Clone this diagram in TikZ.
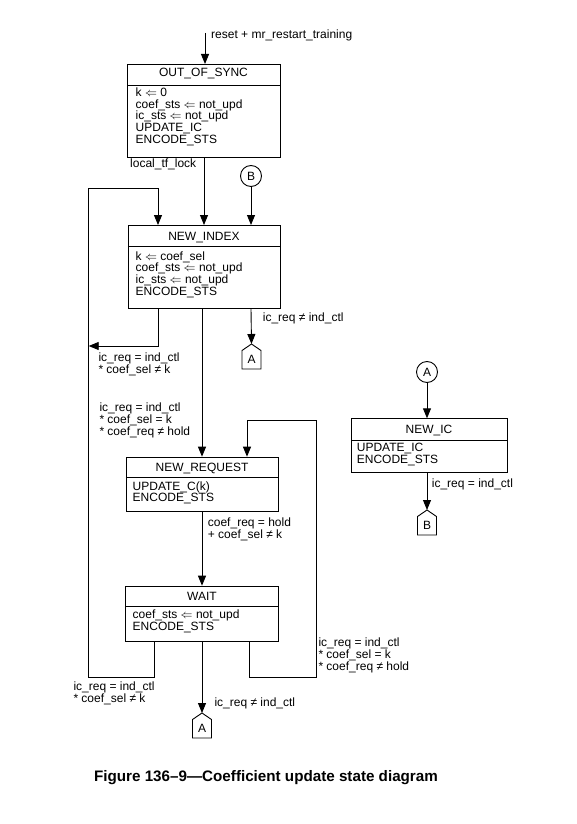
\documentclass[tikz,border=0pt]{standalone}
\usepackage{fontspec}
\setmainfont{Liberation Sans}
\usetikzlibrary{arrows.meta,calc}
\newcommand\offpg[4]{%
  \coordinate (#1top) at (#2,#3);
  \draw[lw] (#1top) -- ++(9.5,6.5) -- ++(0,18.5) -- ++(-19,0) -- ++(0,-18.5) -- cycle;
  \node[anchor=base,inner sep=0pt,font=\fontsize{12}{11.7}\selectfont] (#1) at (#2,#3+19.5) {#4};
}
\begin{document}
\begin{tikzpicture}[x=1pt,y=-1pt,
  lw/.style={line width=0.9pt},
  arr/.style={lw,-{Triangle[length=10pt,width=8pt]}},
  sbox/.style={draw,lw,inner sep=0pt,anchor=north west},
  ttl/.style={anchor=base,inner sep=0pt,font=\fontsize{12}{11.7}\selectfont},
  txt/.style={anchor=base west,align=left,inner sep=0pt,font=\fontsize{12}{11.7}\selectfont},
  conn/.style={draw,lw,circle,minimum size=21pt,inner sep=0pt,font=\fontsize{12}{11.7}\selectfont}]
\useasboundingbox[fill=white] (0,0) rectangle (577,824);

% column coordinates
\coordinate (c204) at (204,0);
\coordinate (c202) at (202,0);
\coordinate (c159) at (158.5,0);
\coordinate (c158) at (158,0);
\coordinate (c251) at (251,0);
\coordinate (c154) at (154.5,0);
\coordinate (c249) at (249,0);
\coordinate (c247) at (247,0);
\coordinate (c427) at (427,0);

% (multi-line text nodes are placed by the baseline of their last line)

% OUT_OF_SYNC
\node[sbox,minimum width=153pt,minimum height=93pt] (oos) at (127,64) {};
\node[ttl] (oosT) at (203.5,77) {OUT\_OF\_SYNC};
\draw[lw] (oos.west |- 0,85) -- (oos.east |- 0,85);
\node[txt] (oosB) at (135.5,143.3) {k $\Leftarrow$ 0\\coef\_sts $\Leftarrow$ not\_upd\\ic\_sts $\Leftarrow$ not\_upd\\UPDATE\_IC\\ENCODE\_STS};

% NEW_INDEX
\node[sbox,minimum width=152.5pt,minimum height=83pt] (ni) at (127.8,225) {};
\node[ttl] (niT) at (204,240) {NEW\_INDEX};
\draw[lw] (ni.west |- 0,246.7) -- (ni.east |- 0,246.7);
\node[txt] (niB) at (135.5,295.1) {k $\Leftarrow$ coef\_sel\\coef\_sts $\Leftarrow$ not\_upd\\ic\_sts $\Leftarrow$ not\_upd\\ENCODE\_STS};

% NEW_REQUEST
\node[sbox,minimum width=152.5pt,minimum height=54.5pt] (nr) at (125.8,456.7) {};
\node[ttl] (nrT) at (202,471) {NEW\_REQUEST};
\draw[lw] (nr.west |- 0,477.7) -- (nr.east |- 0,477.7);
\node[txt] (nrB) at (132.5,501.7) {UPDATE\_C(k)\\ENCODE\_STS};

% WAIT
\node[sbox,minimum width=153pt,minimum height=55pt] (wt) at (125.3,585.7) {};
\node[ttl] (wtT) at (202,600) {WAIT};
\draw[lw] (wt.west |- 0,606) -- (wt.east |- 0,606);
\node[txt] (wtB) at (132.5,630) {coef\_sts $\Leftarrow$ not\_upd\\ENCODE\_STS};

% NEW_IC
\node[sbox,minimum width=156.3pt,minimum height=54pt] (nic) at (351,418.3) {};
\node[ttl] (nicT) at (429,433.3) {NEW\_IC};
\draw[lw] (nic.west |- 0,440) -- (nic.east |- 0,440);
\node[txt] (nicB) at (356.7,463.4) {UPDATE\_IC\\ENCODE\_STS};

% connectors (circles)
\node[conn] (Bc) at (251,176) {B};
\node[conn] (Ac) at (427,372) {A};

% off-page connectors
\offpg{A1}{251.5}{344}{A}
\offpg{A2}{202}{713}{A}
\offpg{B2}{427}{510}{B}

% entry
\coordinate (start) at (205,33);
\draw[arr] (start) -- (start |- oos.north);
\node[txt] (lreset) at (211,38.3) {reset + mr\_restart\_training};

% OUT_OF_SYNC -> NEW_INDEX
\draw[arr] (c204 |- oos.south) -- (c204 |- ni.north);
\node[txt] (llock) at (130,167.5) {local\_tf\_lock};

% B -> NEW_INDEX
\draw[arr] (Bc.south) -- (Bc |- ni.north);

% loop from WAIT to NEW_INDEX (left)
\coordinate (L1) at (88.7,677);
\coordinate (L2) at (88.7,188);
\coordinate (L3) at (158,188);
\draw[arr] (c154 |- wt.south) |- (L1) -- (L2) -- (L3) -- (L3 |- ni.north);
\node[txt] (lwl) at (73.3,702.4) {ic\_req = ind\_ctl\\* coef\_sel ≠ k};

% NEW_INDEX -> left loop
\coordinate (L4) at (88.7,346);
\draw[arr] (c159 |- ni.south) |- (L4);
\node[txt] (lnil) at (98.3,373) {ic\_req = ind\_ctl\\* coef\_sel ≠ k};

% NEW_INDEX -> A
\draw[arr] (c251 |- ni.south) -- (A1top);
\node[txt] (lnia) at (262.7,321) {ic\_req ≠ ind\_ctl};

% NEW_INDEX -> NEW_REQUEST
\draw[arr] (c202 |- ni.south) -- (c202 |- nr.north);
\node[txt] (lninr) at (99.3,435.1) {ic\_req = ind\_ctl\\* coef\_sel = k\\* coef\_req ≠ hold};

% NEW_REQUEST -> WAIT
\draw[arr] (c202 |- nr.south) -- (c202 |- wt.north);
\node[txt] (lnrwt) at (207.7,538.4) {coef\_req = hold\\+ coef\_sel ≠ k};

% WAIT -> A
\draw[arr] (c202 |- wt.south) -- (A2top);
\node[txt] (lwta) at (214.3,706.7) {ic\_req ≠ ind\_ctl};

% WAIT -> NEW_REQUEST (right loop)
\coordinate (R1) at (249,677.7);
\coordinate (R2) at (316,677.7);
\coordinate (R3) at (316,420);
\coordinate (R4) at (247,420);
\draw[arr] (c249 |- wt.south) -- (R1) -- (R2) -- (R3) -- (R4) -- (R4 |- nr.north);
\node[txt] (lwtr) at (318.3,670.1) {ic\_req = ind\_ctl\\* coef\_sel = k\\* coef\_req ≠ hold};

% A -> NEW_IC
\draw[arr] (Ac.south) -- (Ac |- nic.north);

% NEW_IC -> B
\draw[arr] (c427 |- nic.south) -- (B2top);
\node[txt] (lnicb) at (431.7,487.7) {ic\_req = ind\_ctl};

% caption
\node[anchor=base,inner sep=0pt,font=\bfseries\fontsize{15.2}{18}\selectfont] (cap) at (266,781) {Figure 136–9—Coefficient update state diagram};
\end{tikzpicture}
\end{document}
